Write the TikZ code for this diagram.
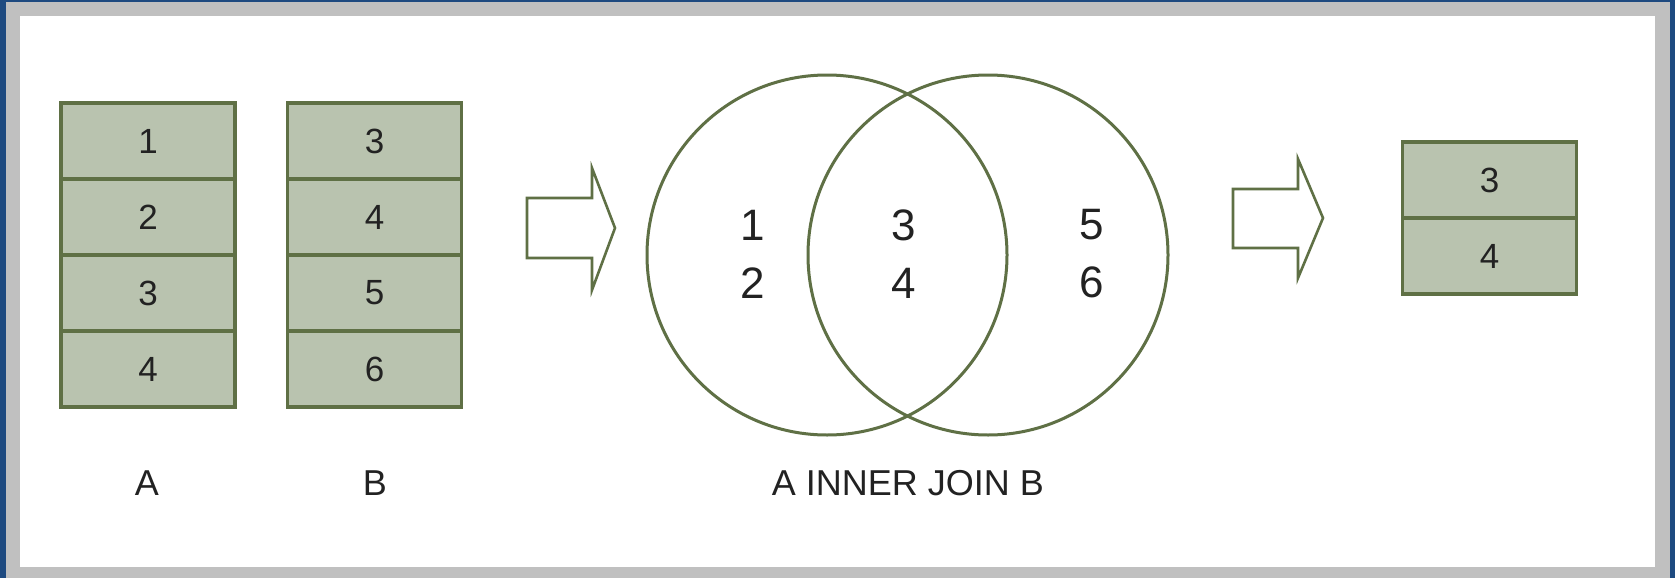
\documentclass[tikz,border=0pt]{standalone}
\usepackage{fontspec}
\setmainfont{Liberation Sans}
\usepackage{tikz}
\usetikzlibrary{positioning}
\definecolor{FrameBlue}{HTML}{1E4A80}
\definecolor{FrameGray}{HTML}{C0C0C0}
\definecolor{OliveLine}{HTML}{5F7045}
\definecolor{OliveFill}{HTML}{B9C3AF}
\definecolor{DigitInk}{HTML}{222222}

\begin{document}
\begin{tikzpicture}[
    x=0.5pt, y=-0.5pt,
    node distance=0pt,
    cell/.style={rectangle, draw=OliveLine, line width=1.8pt, fill=OliveFill, outer sep=0pt, minimum width=87pt, minimum height=38pt, inner sep=0pt, text=DigitInk, font=\fontsize{17.5}{20}\selectfont},
    setring/.style={draw=OliveLine, line width=1.5pt},
    bigarrow/.style={draw=OliveLine, line width=1.3pt, fill=white, line join=miter},
    venn/.style={align=center, text=DigitInk, font=\fontsize{22}{29}\selectfont},
    caption/.style={text=DigitInk, font=\fontsize{18}{20}\selectfont}
]

% frame
\fill[FrameBlue] (0,0) rectangle (1675,578);
\fill[FrameGray] (6,2) rectangle (1670,578);
\fill[white] (20,16) rectangle (1655,567);

% table A
\node[cell] (a1) at (148,141) {1};
\node[cell, below=of a1] (a2) {2};
\node[cell, below=of a2] (a3) {3};
\node[cell, below=of a3] (a4) {4};

% table B
\node[cell] (b1) at (374.5,141) {3};
\node[cell, below=of b1] (b2) {4};
\node[cell, below=of b2] (b3) {5};
\node[cell, below=of b3] (b4) {6};

\node[caption] (capA) at (147,483) {A};
\node[caption] (capB) at (375,483) {B};

% arrow into the venn
\draw[bigarrow] (527,198) -- ++(65,0) -- ++(0,-30) -- ++(23,60) -- ++(-23,62) -- ++(0,-32) -- ++(-65,0) -- cycle;

% venn diagram
\draw[setring] (827,255) circle [radius=180];
\draw[setring] (988,255) circle [radius=180];
\node[venn] (onlyA) at (753,254) {1\\2};
\node[venn] (both) at (904,254) {3\\4};
\node[venn] (onlyB) at (1092,254) {5\\6};
\node[caption] (capJoin) at (908,483) {A INNER JOIN B};

% arrow to the result
\draw[bigarrow] (1233,189) -- ++(65,0) -- ++(0,-30) -- ++(25,59) -- ++(-25,60) -- ++(0,-30) -- ++(-65,0) -- cycle;

% result
\node[cell] (r1) at (1489.5,180) {3};
\node[cell, below=of r1] (r2) {4};

\end{tikzpicture}
\end{document}
